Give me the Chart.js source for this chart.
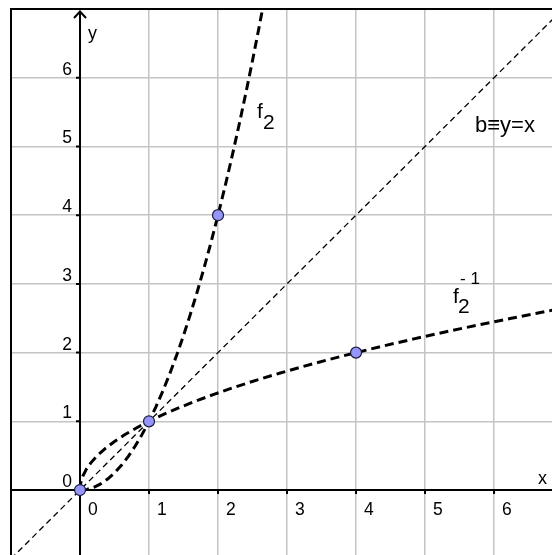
<!DOCTYPE html>
<html>
<head>
<meta charset="utf-8">
<script src="https://cdn.jsdelivr.net/npm/chart.js@4.4.1/dist/chart.umd.min.js"></script>
<style>
  html, body { margin: 0; padding: 0; background: #fff; }
  #wrap { width: 552px; height: 555px; }
</style>
</head>
<body>
<div id="wrap"><canvas id="plot"></canvas></div>
<script>
// f2(x) = x² on x >= 0, its inverse is the same curve with x and y swapped
const tValues = [0, 0.1, 0.2, 0.3, 0.4, 0.5, 0.6, 0.7, 0.8, 0.9, 1, 1.1, 1.2, 1.3,
  1.4, 1.5, 1.6, 1.7, 1.8, 1.9, 2, 2.1, 2.2, 2.3, 2.4, 2.5, 2.6, 2.7];
const tSquared = [0, 0.01, 0.04, 0.09, 0.16, 0.25, 0.36, 0.49, 0.64, 0.81, 1, 1.21, 1.44, 1.69,
  1.96, 2.25, 2.56, 2.89, 3.24, 3.61, 4, 4.41, 4.84, 5.29, 5.76, 6.25, 6.76, 7.29];

// b: y = x
const diagonalX = [-1, 7];
const diagonalY = [-1, 7];

// marked points
const pointX = [0, 1, 2, 4];
const pointY = [0, 1, 4, 2];

const xTickLabels = ['0', '1', '2', '3', '4', '5', '6'];
const yTickLabels = ['0', '1', '2', '3', '4', '5', '6'];

const FONT = '"Liberation Sans", Arial, sans-serif';

const zip = (xs, ys) => xs.map((x, i) => ({ x, y: ys[i] }));

const axesPlugin = {
  id: 'axes',
  beforeDatasetsDraw(chart) {
    const { ctx, chartArea: a, scales: { x, y } } = chart;
    const x0 = x.getPixelForValue(0);
    const y0 = y.getPixelForValue(0);
    ctx.save();
    ctx.strokeStyle = '#000';
    ctx.lineWidth = 2;

    // frame
    ctx.beginPath();
    ctx.moveTo(a.left, a.bottom);
    ctx.lineTo(a.left, a.top);
    ctx.lineTo(a.right, a.top);
    ctx.stroke();

    // axes
    ctx.beginPath();
    ctx.moveTo(a.left, y0);
    ctx.lineTo(a.right, y0);
    ctx.moveTo(x0, a.bottom);
    ctx.lineTo(x0, a.top + 2);
    ctx.stroke();

    // arrow on the y axis
    ctx.beginPath();
    ctx.moveTo(x0 - 6, a.top + 9);
    ctx.lineTo(x0, a.top + 2.5);
    ctx.lineTo(x0 + 6, a.top + 9);
    ctx.stroke();

    // tick marks
    ctx.beginPath();
    xTickLabels.forEach((_, i) => {
      const px = x.getPixelForValue(i);
      ctx.moveTo(px, y0);
      ctx.lineTo(px, y0 + 4);
    });
    yTickLabels.forEach((_, j) => {
      const py = y.getPixelForValue(j);
      ctx.moveTo(x0, py);
      ctx.lineTo(x0 - 4, py);
    });
    ctx.stroke();

    // tick labels
    ctx.fillStyle = '#000';
    ctx.font = '17.5px ' + FONT;
    ctx.textBaseline = 'alphabetic';
    ctx.textAlign = 'left';
    xTickLabels.forEach((t, i) => {
      ctx.fillText(t, x.getPixelForValue(i) + 8, y0 + 25);
    });
    ctx.textAlign = 'right';
    yTickLabels.forEach((t, j) => {
      ctx.fillText(t, x0 - 8, y.getPixelForValue(j) - 3);
    });

    // axis names
    ctx.textAlign = 'left';
    ctx.font = '18px ' + FONT;
    ctx.fillText('y', x0 + 8, a.top + 30);
    ctx.fillText('x', a.right - 14, y0 - 6);

    // curve names
    ctx.font = '21px ' + FONT;
    ctx.fillText('f', 257, 118);
    ctx.fillText('2', 263, 129);
    ctx.fillText('f', 453, 303);
    ctx.fillText('2', 458, 313);
    ctx.font = '22px ' + FONT;
    ctx.fillText('b≡y=x', 475, 132);
    ctx.font = '17px ' + FONT;
    ctx.fillText('- 1', 460, 284);
    ctx.restore();
  }
};

const integerTicks = s => { s.ticks = s.ticks.filter(t => Number.isInteger(t.value)); };

new Chart(document.getElementById('plot'), {
  type: 'scatter',
  data: {
    datasets: [
      {
        label: 'points',
        data: zip(pointX, pointY),
        order: 0,
        pointRadius: 5.5,
        pointBackgroundColor: 'rgb(150,150,250)',
        pointBorderColor: '#1c1c40',
        pointBorderWidth: 1.2,
        showLine: false
      },
      {
        label: 'f2',
        data: zip(tValues, tSquared),
        order: 1,
        showLine: true,
        pointRadius: 0,
        borderColor: '#000',
        borderWidth: 3,
        borderDash: [9, 5],
        tension: 0
      },
      {
        label: 'f2^-1',
        data: zip(tSquared, tValues),
        order: 1,
        showLine: true,
        pointRadius: 0,
        borderColor: '#000',
        borderWidth: 3,
        borderDash: [9, 5],
        tension: 0
      },
      {
        label: 'b',
        data: zip(diagonalX, diagonalY),
        order: 2,
        showLine: true,
        pointRadius: 0,
        borderColor: '#000',
        borderWidth: 1.3,
        borderDash: [6, 4]
      }
    ]
  },
  options: {
    responsive: true,
    maintainAspectRatio: false,
    animation: false,
    events: [],
    layout: { autoPadding: false, padding: { left: 11, top: 9, right: 0, bottom: 0 } },
    plugins: {
      legend: { display: false },
      tooltip: { enabled: false }
    },
    scales: {
      x: {
        type: 'linear',
        min: -1,
        max: 6.84,
        ticks: { display: false, stepSize: 1 },
        afterBuildTicks: integerTicks,
        border: { display: false },
        grid: { color: '#c4c4c4', lineWidth: 1.5, drawTicks: false }
      },
      y: {
        type: 'linear',
        min: -0.945,
        max: 7,
        ticks: { display: false, stepSize: 1 },
        afterBuildTicks: integerTicks,
        border: { display: false },
        grid: { color: '#c4c4c4', lineWidth: 1.5, drawTicks: false }
      }
    }
  },
  plugins: [axesPlugin]
});
</script>
</body>
</html>
